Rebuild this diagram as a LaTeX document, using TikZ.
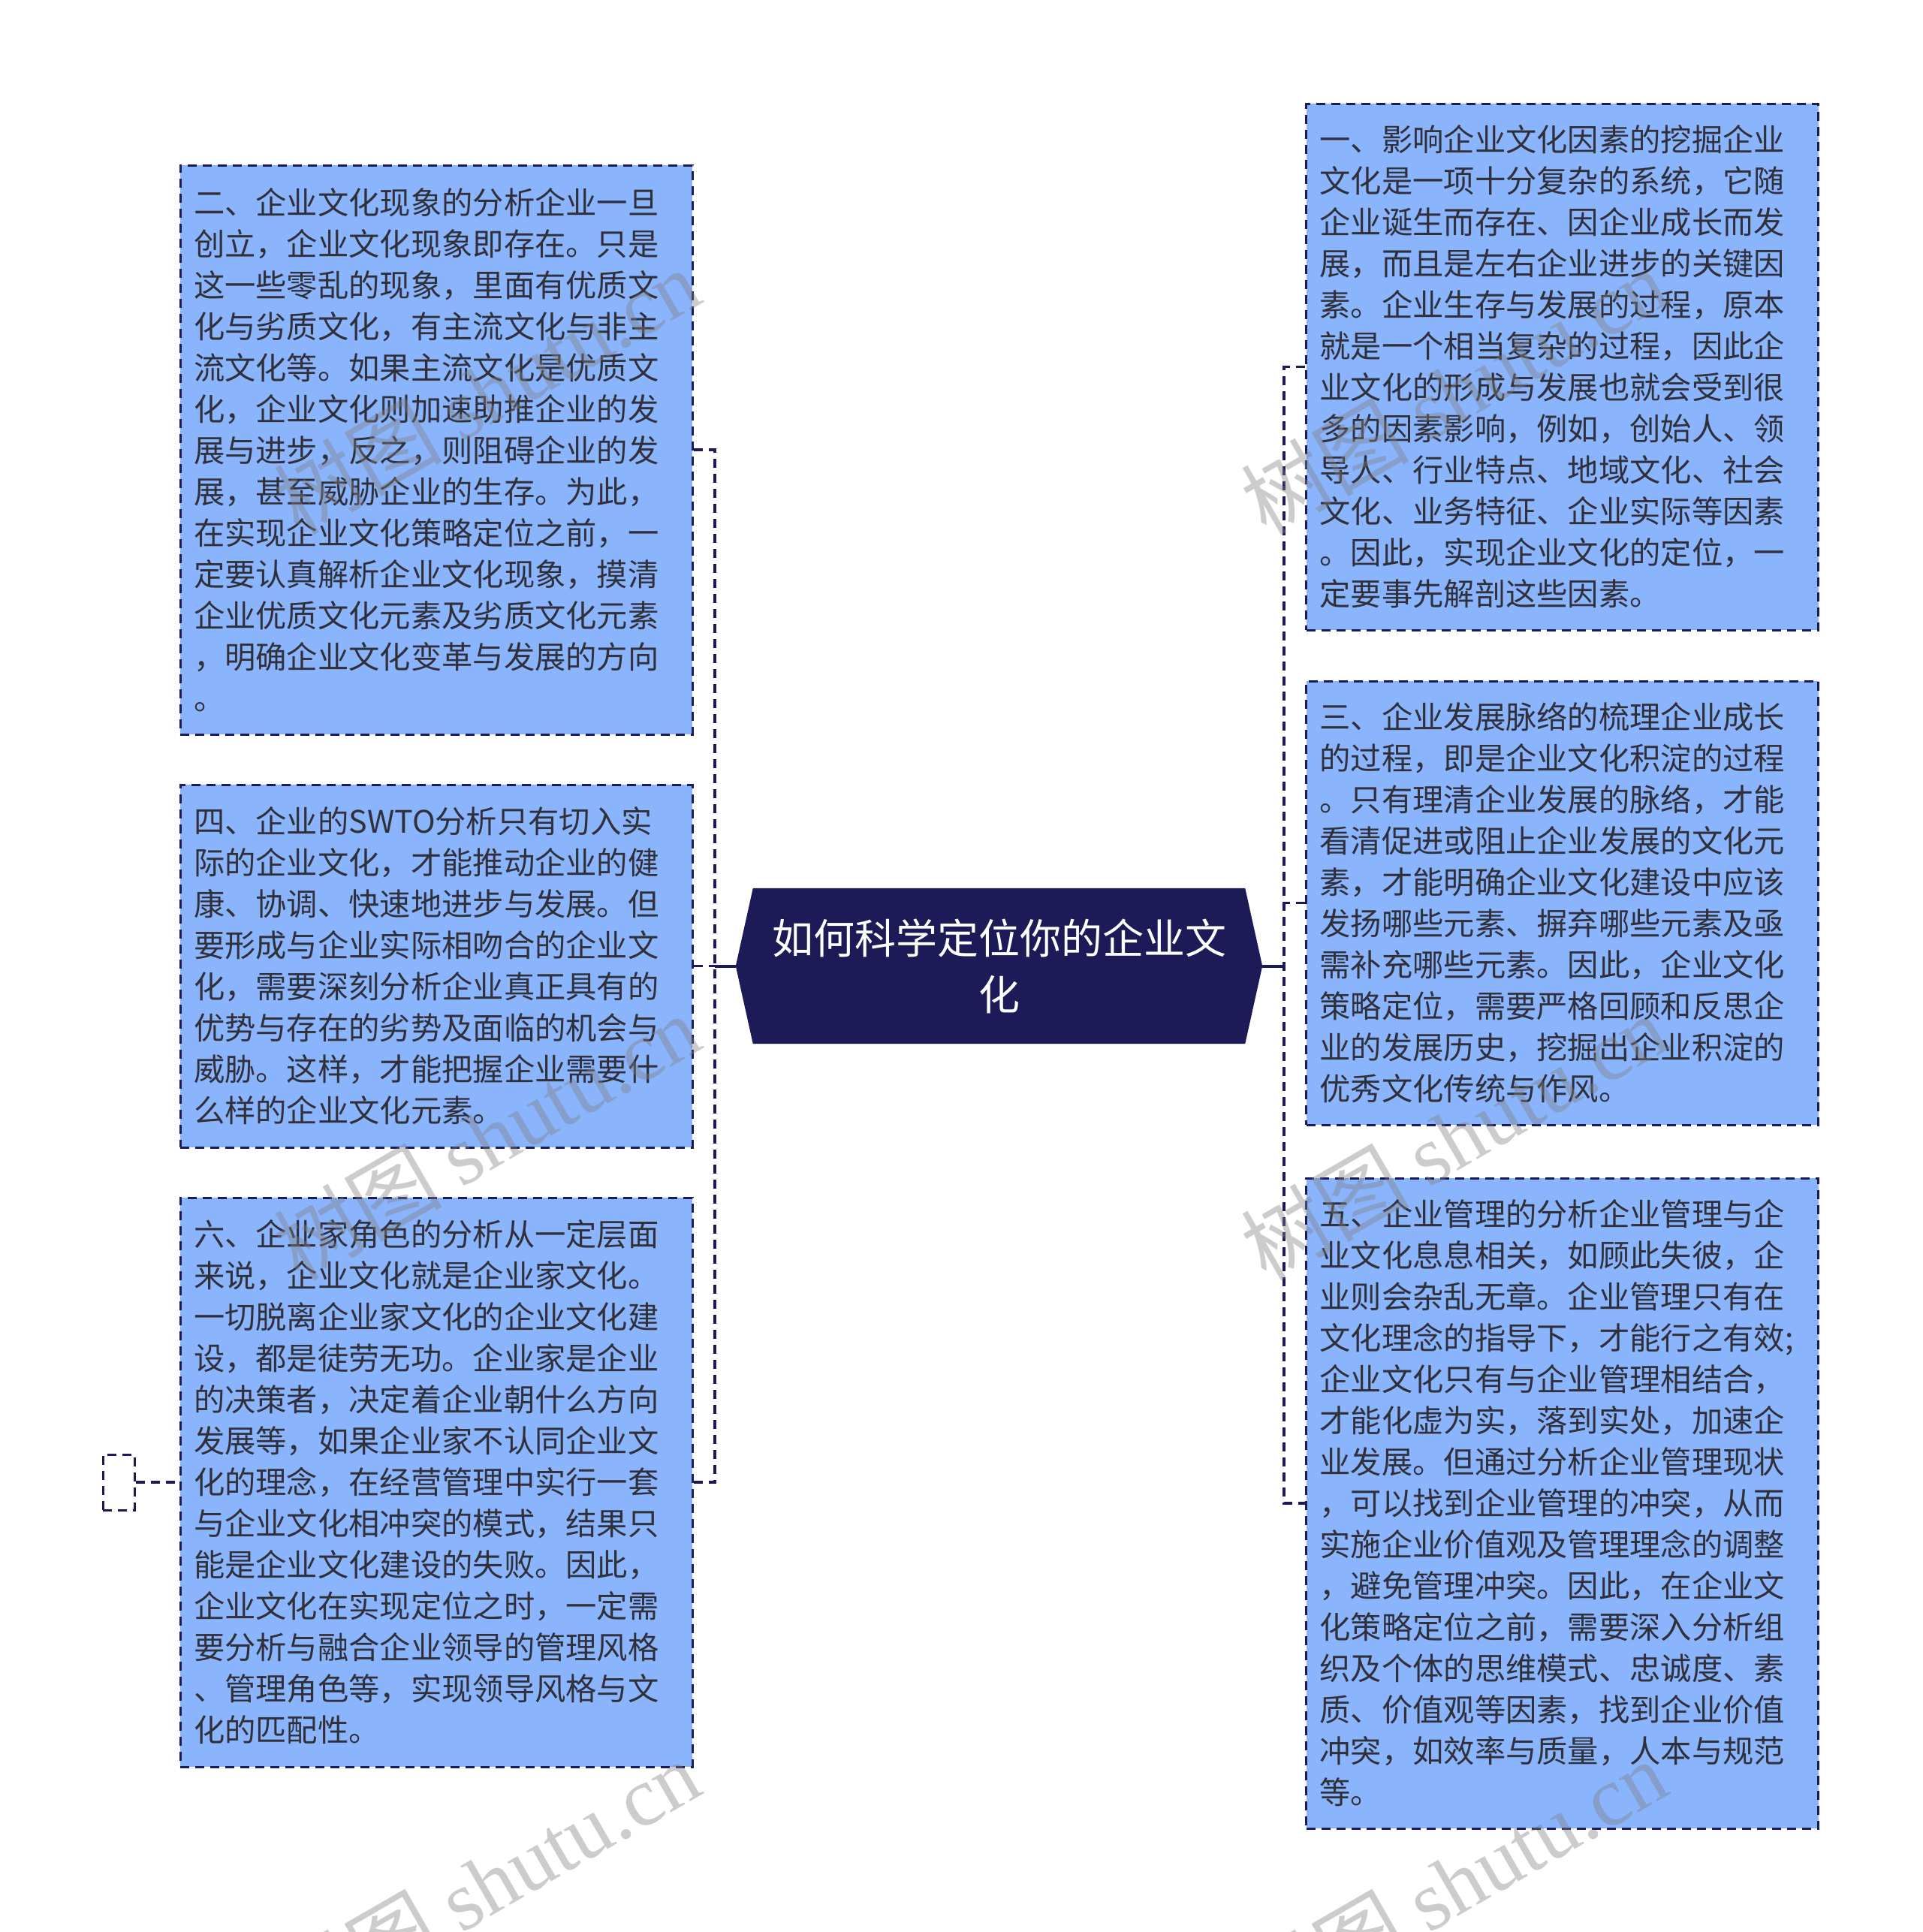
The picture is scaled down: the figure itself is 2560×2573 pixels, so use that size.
\documentclass[tikz,border=0pt]{standalone}
\usepackage{fontspec}
\setmainfont{Noto Sans CJK SC}
\newfontfamily\wmserif{Liberation Serif}
\usetikzlibrary{backgrounds,calc}
\definecolor{navy}{RGB}{28,27,88}
\definecolor{boxblue}{RGB}{138,180,252}
\definecolor{txt}{RGB}{48,48,58}
\tikzset{
  card/.style={draw=navy, fill=boxblue, line width=3pt, dash pattern=on 12pt off 8pt,
    text=txt, font=\fontsize{41.3}{55}\selectfont, align=left, text width=646pt,
    inner xsep=18pt, inner ysep=0pt, minimum width=682pt, anchor=center},
  link/.style={draw=navy, line width=3.5pt, dash pattern=on 12pt off 8pt},
  trunk/.style={draw=navy, line width=4pt},
  wm/.style={text=gray, text opacity=0.4, rotate=30, font=\fontsize{112}{112}\selectfont, inner sep=0pt}
}
\begin{document}
\begin{tikzpicture}[x=1pt,y=-1pt]
\useasboundingbox (0,0) rectangle (2560,2573);

% left cards
\node[card, minimum height=758pt] (b2) at (581,599) {二、企业文化现象的分析企业一旦\\创立，企业文化现象即存在。只是\\这一些零乱的现象，里面有优质文\\化与劣质文化，有主流文化与非主\\流文化等。如果主流文化是优质文\\化，企业文化则加速助推企业的发\\展与进步，反之，则阻碍企业的发\\展，甚至威胁企业的生存。为此，\\在实现企业文化策略定位之前，一\\定要认真解析企业文化现象，摸清\\企业优质文化元素及劣质文化元素\\，明确企业文化变革与发展的方向\\。};
\node[card, minimum height=483pt] (b4) at (581,1286.5) {四、企业的SWTO分析只有切入实\\际的企业文化，才能推动企业的健\\康、协调、快速地进步与发展。但\\要形成与企业实际相吻合的企业文\\化，需要深刻分析企业真正具有的\\优势与存在的劣势及面临的机会与\\威胁。这样，才能把握企业需要什\\么样的企业文化元素。};
\node[card, minimum height=758pt] (b6) at (581,1974) {六、企业家角色的分析从一定层面\\来说，企业文化就是企业家文化。\\一切脱离企业家文化的企业文化建\\设，都是徒劳无功。企业家是企业\\的决策者，决定着企业朝什么方向\\发展等，如果企业家不认同企业文\\化的理念，在经营管理中实行一套\\与企业文化相冲突的模式，结果只\\能是企业文化建设的失败。因此，\\企业文化在实现定位之时，一定需\\要分析与融合企业领导的管理风格\\、管理角色等，实现领导风格与文\\化的匹配性。};

% right cards
\node[card, minimum height=701pt] (b1) at (2080.5,488.5) {一、影响企业文化因素的挖掘企业\\文化是一项十分复杂的系统，它随\\企业诞生而存在、因企业成长而发\\展，而且是左右企业进步的关键因\\素。企业生存与发展的过程，原本\\就是一个相当复杂的过程，因此企\\业文化的形成与发展也就会受到很\\多的因素影响，例如，创始人、领\\导人、行业特点、地域文化、社会\\文化、业务特征、企业实际等因素\\。因此，实现企业文化的定位，一\\定要事先解剖这些因素。};
\node[card, minimum height=591pt] (b3) at (2080.5,1202.5) {三、企业发展脉络的梳理企业成长\\的过程，即是企业文化积淀的过程\\。只有理清企业发展的脉络，才能\\看清促进或阻止企业发展的文化元\\素，才能明确企业文化建设中应该\\发扬哪些元素、摒弃哪些元素及亟\\需补充哪些元素。因此，企业文化\\策略定位，需要严格回顾和反思企\\业的发展历史，挖掘出企业积淀的\\优秀文化传统与作风。};
\node[card, minimum height=866pt] (b5) at (2080.5,2002) {五、企业管理的分析企业管理与企\\业文化息息相关，如顾此失彼，企\\业则会杂乱无章。企业管理只有在\\文化理念的指导下，才能行之有效;\\企业文化只有与企业管理相结合，\\才能化虚为实，落到实处，加速企\\业发展。但通过分析企业管理现状\\，可以找到企业管理的冲突，从而\\实施企业价值观及管理理念的调整\\，避免管理冲突。因此，在企业文\\化策略定位之前，需要深入分析组\\织及个体的思维模式、忠诚度、素\\质、价值观等因素，找到企业价值\\冲突，如效率与质量，人本与规范\\等。};

% centre
\node[font=\fontsize{55}{75}\selectfont, text=white, align=center, minimum width=701pt,
      minimum height=207pt, inner sep=0pt] (c) at (1330.5,1286.5) {如何科学定位你的企业文\\化};
\begin{scope}[on background layer]
\fill[white] (0,0) rectangle (2560,2573);
\fill[navy] ($(c.north west)+(23,0)$) -- ($(c.north east)+(-23,0)$) -- (c.east)
  -- ($(c.south east)+(-23,0)$) -- ($(c.south west)+(23,0)$) -- (c.west) -- cycle;
\end{scope}

% small dashed box
\node[draw=navy, line width=3pt, dash pattern=on 12pt off 8pt, minimum width=42pt,
      minimum height=74pt, inner sep=0pt] (s) at (158,1974) {};

% connectors
\coordinate (lb) at (952,1286.5);
\coordinate (rb) at (1710,1286.5);
\draw[link] (b2.east) -- (b2.east -| lb) -- (b6.east -| lb) -- (b6.east);
\draw[link] (b4.east) -- (lb);
\draw[trunk] (c.west) -- (lb);
\draw[link] (b1.west) -- (b1.west -| rb) -- (b5.west -| rb) -- (b5.west);
\draw[link] (b3.west) -- (b3.west -| rb);
\draw[trunk] (c.east) -- (rb);
\draw[link] (s.east) -- (b6.west);

% watermarks
\node[wm] (w1) at (648,521) {树图 {\wmserif shutu.cn}};
\node[wm] (w2) at (648,1514) {树图 {\wmserif shutu.cn}};
\node[wm] (w3) at (648,2507) {树图 {\wmserif shutu.cn}};
\node[wm] (w4) at (1936,521) {树图 {\wmserif shutu.cn}};
\node[wm] (w5) at (1936,1514) {树图 {\wmserif shutu.cn}};
\node[wm] (w6) at (1936,2507) {树图 {\wmserif shutu.cn}};
\end{tikzpicture}
\end{document}
